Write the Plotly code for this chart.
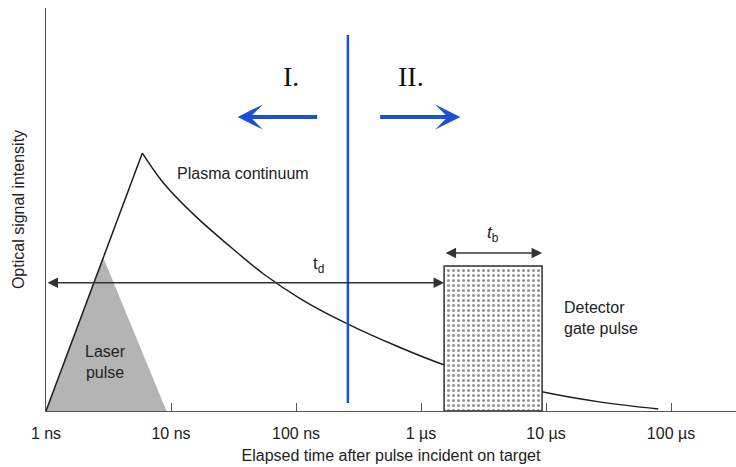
import math
import plotly.graph_objects as go

# ---- data (time in ns, intensity in arbitrary units 0..1) ----
rise_ns = [1, 5.9]
rise_int = [0, 0.64]
decay_ns = [5.9, 8.7, 16, 30, 55, 112, 263, 630, 1550, 3800, 9500, 27500, 79000]
decay_int = [0.64, 0.566, 0.481, 0.407, 0.34, 0.276, 0.215, 0.162, 0.114, 0.078, 0.047, 0.022, 0.005]
laser_ns = [1, 2.86, 9.2]
laser_int = [0, 0.382, 0]
gate_ns = [1530, 9300]
gate_height = 0.36
divide_ns = 260
tick_ns = [1, 10, 100, 1000, 10000, 100000]
tick_text = ["1 ns", "10 ns", "100 ns", "1 µs", "10 µs", "100 µs"]

SANS = "Liberation Sans, Arial, sans-serif"
SERIF = "Liberation Serif, Times New Roman, serif"
TXT = "#222222"
AX = "#555555"
BLUE = "#1a4fd6"

lg = math.log10

fig = go.Figure()

# laser pulse (grey triangle)
fig.add_trace(go.Scatter(
    x=laser_ns, y=laser_int, mode="lines", fill="toself",
    fillcolor="#b4b4b4", line=dict(width=0), hoverinfo="skip"))

# plasma continuum: linear rise then decay
fig.add_trace(go.Scatter(x=rise_ns, y=rise_int, mode="lines",
                         line=dict(color="#1e1e1e", width=1.5)))
fig.add_trace(go.Scatter(x=decay_ns, y=decay_int, mode="lines",
                         line=dict(color="#1e1e1e", width=1.5, shape="spline")))

# detector gate pulse (stippled box, drawn over the continuum)
g0, g1 = gate_ns
fig.add_trace(go.Scatter(
    x=[g0, g0, g1, g1, g0], y=[0, gate_height, gate_height, 0, 0],
    mode="lines", fill="toself", fillcolor="white",
    fillpattern=dict(shape=".", fgcolor="#2a2a2a", bgcolor="white",
                     size=5, solidity=0.3),
    line=dict(color="#333333", width=1.5), hoverinfo="skip"))

# blue divider between regimes I and II
fig.add_trace(go.Scatter(x=[divide_ns, divide_ns], y=[0.02, 0.933], mode="lines",
                         line=dict(color=BLUE, width=2.5)))

ann = []
d = lg(divide_ns)
# regime arrows
for tail, head in [(d - 0.234, d - 0.882), (d + 0.246, d + 0.90)]:
    ann.append(dict(x=head, y=0.7295, ax=tail, ay=0.7295, xref="x", yref="y",
                    axref="x", ayref="y", text="", showarrow=True,
                    arrowhead=3, arrowsize=1.05, arrowwidth=4, arrowcolor=BLUE))
ann.append(dict(x=d - 0.458, y=0.829, xref="x", yref="y", text="I.", showarrow=False,
                font=dict(family=SERIF, size=28, color="#111111")))
ann.append(dict(x=d + 0.502, y=0.829, xref="x", yref="y", text="II.", showarrow=False,
                font=dict(family=SERIF, size=28, color="#111111")))

# delay arrow t_d
ann.append(dict(x=lg(g0), y=0.318, ax=lg(tick_ns[0]), ay=0.318, xref="x", yref="y",
                axref="x", ayref="y", text="", showarrow=True, arrowside="end+start",
                arrowhead=2, arrowsize=1.4, arrowwidth=1.5, arrowcolor="#333333"))
ann.append(dict(x=lg(150), y=0.362, xref="x", yref="y", text="t<sub>d</sub>",
                showarrow=False, font=dict(family=SANS, size=17, color=TXT)))

# gate width arrow t_b
ann.append(dict(x=lg(g1), y=0.392, ax=lg(g0), ay=0.392, xref="x", yref="y",
                axref="x", ayref="y", text="", showarrow=True, arrowside="end+start",
                arrowhead=2, arrowsize=1.4, arrowwidth=1.5, arrowcolor="#333333"))
ann.append(dict(x=(lg(g0) + lg(g1)) / 2, y=0.44, xref="x", yref="y",
                text="<i>t</i><sub>b</sub>", showarrow=False,
                font=dict(family=SANS, size=17, color=TXT)))

# labels
ann.append(dict(x=lg(10.8), y=0.59, xref="x", yref="y", text="Plasma continuum",
                xanchor="left", showarrow=False, font=dict(family=SANS, size=16, color=TXT)))
ann.append(dict(x=lg(2.97), y=0.122, xref="x", yref="y", text="Laser<br>pulse",
                showarrow=False, font=dict(family=SANS, size=16, color=TXT)))
ann.append(dict(x=lg(13400), y=0.231, xref="x", yref="y", text="Detector<br>gate pulse",
                xanchor="left", align="left", showarrow=False,
                font=dict(family=SANS, size=16, color=TXT)))

fig.update_layout(
    width=736, height=467,
    margin=dict(l=46, r=0, t=8, b=56),
    paper_bgcolor="white", plot_bgcolor="white",
    showlegend=False,
    annotations=ann,
    font=dict(family=SANS, color=TXT),
)
fig.update_xaxes(
    type="log", range=[0, 5.52], showgrid=False, zeroline=False,
    showline=True, linecolor=AX, linewidth=1.2,
    ticks="inside", ticklen=8, tickwidth=1.2, tickcolor=AX,
    tickvals=tick_ns, ticktext=tick_text, ticklabelstandoff=8,
    tickfont=dict(family=SANS, size=16, color=TXT),
    title=dict(text="Elapsed time after pulse incident on target",
               font=dict(family=SANS, size=16, color=TXT), standoff=8),
)
fig.update_yaxes(
    range=[0, 1], showgrid=False, zeroline=False, showline=True,
    linecolor=AX, linewidth=1.2, ticks="", showticklabels=False,
    title=dict(text="Optical signal intensity",
               font=dict(family=SANS, size=16, color=TXT), standoff=16),
)

fig.write_html("out.html")
